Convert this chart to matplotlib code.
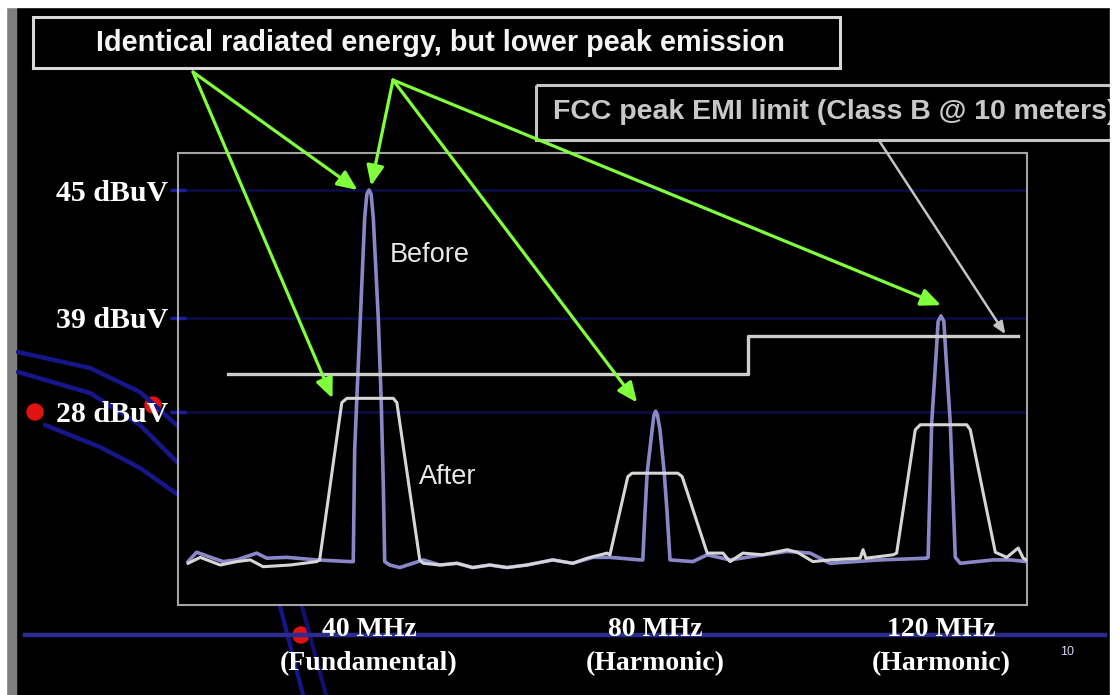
import numpy as np
import matplotlib
matplotlib.use("Agg")
import matplotlib.pyplot as plt
from matplotlib.patches import Rectangle, Circle

W, H = 1120, 695

# spectrum traces (MHz, dBuV)
BEFORE_MHZ = [14.7, 15.9, 18.2, 19.6, 21.5, 24.3, 25.7, 28.5, 32.7, 37.3,
              37.8, 38.0, 38.3, 39.0, 39.4, 39.7, 40.0, 40.3, 40.6, 41.3,
              41.7, 42.0, 42.2, 42.9, 44.3, 47.6, 49.9, 52.3, 54.5, 56.9,
              59.3, 62.1, 65.7, 68.5, 71.3, 73.7, 77.9, 78.3, 78.6, 78.9,
              79.6, 79.85, 80.1, 80.35, 80.7, 81.3, 81.7, 82.1, 85.3, 87.3,
              90.5, 95.1, 98.5, 101.7, 104.5, 111.5, 118.0, 118.2, 118.7, 119.3,
              119.6, 120.0, 120.4, 120.7, 121.3, 122.0, 122.7, 127.3, 129.7, 132.0]
BEFORE_DBUV = [10.4, 11.5, 10.8, 10.4, 10.6, 11.4, 10.8, 10.9, 10.6, 10.4,
               10.4, 23.5, 29.6, 40.6, 43.7, 44.8, 45.0, 44.8, 43.7, 39.0,
               29.6, 19.6, 10.4, 10.0, 9.7, 10.6, 10.0, 10.2, 9.7, 10.0,
               9.7, 10.0, 10.6, 10.2, 10.9, 10.9, 10.6, 10.6, 16.1, 20.8,
               25.9, 27.6, 28.1, 27.6, 25.9, 20.8, 16.1, 10.6, 10.4, 11.2,
               10.6, 11.2, 11.6, 11.4, 10.2, 10.6, 10.8, 10.9, 26.7, 34.5,
               38.6, 39.1, 38.6, 34.5, 26.7, 10.9, 10.2, 10.6, 10.6, 10.4]

AFTER_MHZ = [14.7, 16.4, 19.2, 21.5, 23.4, 25.2, 29.0, 32.7, 33.1, 36.2,
             36.9, 43.4, 43.9, 47.1, 47.6, 49.9, 52.3, 54.5, 56.9, 59.3,
             62.1, 65.7, 68.5, 70.5, 73.3, 73.7, 76.2, 76.8, 83.2, 83.8,
             87.3, 89.5, 90.5, 92.3, 95.1, 98.5, 99.9, 102.1, 104.5, 108.7,
             109.1, 109.5, 113.3, 113.8, 116.4, 117.1, 123.6, 124.1, 127.6, 129.2,
             130.8, 131.5, 132.4]
AFTER_DBUV = [10.2, 10.9, 10.0, 10.4, 10.6, 9.8, 10.0, 10.4, 10.6, 29.1,
              29.6, 29.6, 29.1, 10.6, 10.2, 10.0, 10.2, 9.7, 10.0, 9.7,
              10.0, 10.6, 10.2, 10.8, 11.4, 11.2, 20.4, 20.8, 20.8, 20.4,
              11.4, 11.4, 10.4, 11.4, 11.2, 11.8, 11.5, 10.4, 10.6, 10.8,
              11.8, 10.8, 11.2, 11.4, 25.9, 26.5, 26.5, 25.9, 11.5, 10.9,
              12.0, 10.8, 10.4]

LIMIT_MHZ = [20.3, 93.0, 93.0, 130.8]
LIMIT_DBUV = [32.4, 32.4, 36.9, 36.9]

Y_TICKS = [28, 39, 45]
Y_LABELS = ["28 dBuV", "39 dBuV", "45 dBuV"]
X_TICKS = [40, 80, 120]
X_LABELS = ["40 MHz\n(Fundamental)", "80 MHz\n(Harmonic)", "120 MHz\n(Harmonic)"]

# the slide's level axis is not linear: stretched above 39 dBuV
DB_ANCH = [-20.0, 28.0, 39.0, 80.0]
V_ANCH = [-215.0, 193.0, 287.0, 1161.6]


def fwd(d):
    return np.interp(d, DB_ANCH, V_ANCH)


def inv(v):
    return np.interp(v, V_ANCH, DB_ANCH)


GREEN = "#80ff3c"
SANS = "Liberation Sans"
SERIF = "Liberation Serif"

fig = plt.figure(figsize=(W / 100, H / 100), dpi=100, facecolor="white")

# ---- slide background ----
bg = fig.add_axes([0, 0, 1, 1], zorder=0)
bg.set_xlim(0, W)
bg.set_ylim(H, 0)
bg.axis("off")
bg.add_patch(Rectangle((16, 7), 1094, 690, color="black"))
bg.add_patch(Rectangle((6, 7), 10, 690, color="#7f7f7f"))

arcs = [([18, 90, 140, 180], [352, 368, 392, 428]),
        ([18, 90, 140, 180], [372, 393, 425, 465]),
        ([45, 100, 140, 180], [425, 447, 468, 496])]
for xs, ys in arcs:
    bg.plot(xs, ys, color="#16168a", lw=3.2, solid_capstyle="round")
bg.plot([280, 303], [606, 695], color="#16168a", lw=3)
bg.plot([302, 326], [606, 695], color="#101070", lw=3)
bg.plot([25, 1105], [635, 635], color="#2c2c8e", lw=3.2)
for cx, cy in [(35, 412), (301, 635), (153, 405)]:
    bg.add_patch(Circle((cx, cy), 8, color="#e01212"))
bg.text(1067, 652, "10", color="#ddd6f2", fontsize=9, family=SANS,
        ha="center", va="center")

# ---- spectrum plot ----
ax = fig.add_axes([178 / W, (H - 605) / H, (1027 - 178) / W, (605 - 153) / H],
                  zorder=2)
ax.set_facecolor("black")
ax.set_yscale("function", functions=(fwd, inv))
ax.set_xlim(13.29, 132.03)
ax.set_ylim(inv(0.0), inv(452.0))

for t in Y_TICKS:
    ax.axhline(t, color="#0c0c42", lw=2, zorder=0)

ax.plot(BEFORE_MHZ, BEFORE_DBUV, color="#8a87c8", lw=2.6, zorder=2)
ax.plot(AFTER_MHZ, AFTER_DBUV, color="#d6d6d6", lw=2.2, zorder=3)
ax.plot(LIMIT_MHZ, LIMIT_DBUV, color="#cdcdcd", lw=2.4, zorder=3)

ax.set_yticks(Y_TICKS, Y_LABELS, family=SERIF, fontweight="bold",
              fontsize=21.5, color="white")
ax.set_xticks(X_TICKS, X_LABELS, family=SERIF, fontweight="bold",
              fontsize=20, color="white", linespacing=1.45)
ax.minorticks_off()
ax.tick_params(axis="y", direction="inout", length=12, width=2.5,
               color="#1c1ca0", pad=1)
ax.tick_params(axis="x", length=0, pad=9)
for s in ax.spines.values():
    s.set_color("#a4a4a4")
    s.set_linewidth(1.5)

# ---- overlay: callouts and slide margins ----
top = fig.add_axes([0, 0, 1, 1], zorder=3)
top.set_xlim(0, W)
top.set_ylim(H, 0)
top.axis("off")
top.patch.set_alpha(0)

top.add_patch(Rectangle((33, 17), 807, 51, fill=False, ec="#d8d8d8", lw=2.2))
top.text(440, 43, "Identical radiated energy, but lower peak emission",
         color="#f4f4f4", fontsize=20.8, fontweight="bold", family=SANS,
         ha="center", va="center")
top.add_patch(Rectangle((536, 85), 620, 55, fill=False, ec="#c4c4c4", lw=2.2))
top.text(553, 112, "FCC peak EMI limit (Class B @ 10 meters)",
         color="#c8c8c8", fontsize=20.5, fontweight="bold", family=SANS,
         ha="left", va="center")
top.text(430, 255, "Before", color="#e8e8e8", fontsize=19.5, family=SANS,
         ha="center", va="center")
top.text(448, 477, "After", color="#e8e8e8", fontsize=19.5, family=SANS,
         ha="center", va="center")

# green arrows from the two label roots to the peaks
i_fund = int(np.argmax(BEFORE_DBUV))
i_80 = BEFORE_MHZ.index(80.1)
i_120 = BEFORE_MHZ.index(120.0)
i_corner = AFTER_MHZ.index(36.9)
green_arrows = [
    ((193, 72), (AFTER_MHZ[i_corner] - 2.0, AFTER_DBUV[i_corner])),
    ((193, 72), (BEFORE_MHZ[i_fund] - 1.6, BEFORE_DBUV[i_fund])),
    ((393, 80), (BEFORE_MHZ[i_fund] + 0.3, BEFORE_DBUV[i_fund] + 0.2)),
    ((393, 80), (BEFORE_MHZ[i_80] - 2.6, BEFORE_DBUV[i_80] + 1.0)),
    ((393, 80), (BEFORE_MHZ[i_120], BEFORE_DBUV[i_120] + 0.5)),
]
for start, tip in green_arrows:
    top.annotate("", xy=tip, xycoords=ax.transData, xytext=start,
                 textcoords="data",
                 arrowprops=dict(arrowstyle="-|>,head_length=0.8,head_width=0.35",
                                 color=GREEN, lw=2.3, shrinkA=0, shrinkB=0,
                                 mutation_scale=15))
top.annotate("", xy=(LIMIT_MHZ[-1] - 1.8, LIMIT_DBUV[-1] + 0.2),
             xycoords=ax.transData, xytext=(880, 142), textcoords="data",
             arrowprops=dict(arrowstyle="-|>,head_length=0.6,head_width=0.25",
                             color="#c4c4c4", lw=1.8, shrinkA=0, shrinkB=0,
                             mutation_scale=12))

# white slide margins on top, they also cut the FCC box
top.add_patch(Rectangle((1110, 0), 10, H, color="white", zorder=10))
top.add_patch(Rectangle((0, 0), W, 7, color="white", zorder=10))
top.add_patch(Rectangle((0, 0), 6, H, color="white", zorder=10))

fig.savefig("out.png", dpi=100, facecolor="white")
